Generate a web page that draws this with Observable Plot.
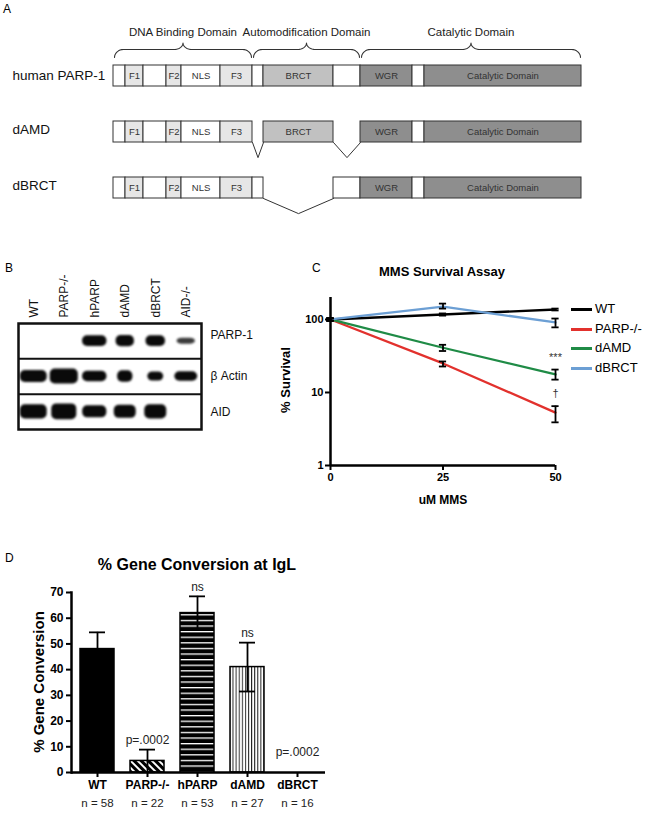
<!DOCTYPE html>
<html><head><meta charset="utf-8">
<script src="https://cdn.jsdelivr.net/npm/d3@7"></script>
<script src="https://cdn.jsdelivr.net/npm/@observablehq/plot@0.6"></script>
<style>
body{margin:0;background:#fff;font-family:"Liberation Sans",Arial,sans-serif;}
#fig{position:relative;width:652px;height:825px;overflow:hidden;background:#fff;}
.abs{position:absolute;white-space:nowrap;line-height:1;color:#000;}
.ctr{transform:translate(-50%,-50%);}
.rot{transform:translate(-50%,-50%) rotate(-90deg);}
.b{font-weight:bold;}
</style></head><body><div id="fig"></div>
<script>
// ================= DATA =================
// Panel A: domain structure
const constructs = ["human PARP-1", "dAMD", "dBRCT"];
const segNames = ["", "F1", "", "F2", "NLS", "F3", "", "BRCT", "", "WGR", "", "Catalytic Domain"];
const segBounds = [0, 12, 30, 53, 68, 107, 139, 150, 220, 247, 299, 311, 468];
const segKinds = ["white", "light", "white", "light", "white", "light", "white", "mid", "white", "dark", "white", "dark"];
const deletedSegs = [[], [6, 8], [7]];
const domainNames = ["DNA Binding Domain", "Automodification Domain", "Catalytic Domain"];
const domainStart = [0, 139, 247];
const domainEnd = [139, 247, 468];

// Panel B: western blot
const lanes = ["WT", "PARP-/-", "hPARP", "dAMD", "dBRCT", "AID-/-"];
const blotRows = ["PARP-1", "β Actin", "AID"];
const bandSignal = [
  [0, 0, 1, 1, 1, 0.8],
  [1, 1, 1, 1, 1, 1],
  [1, 1, 1, 1, 1, 0]
];
const bandWidth = [
  [0, 0, 0.80, 0.60, 0.64, 0.60],
  [0.88, 0.92, 0.80, 0.50, 0.52, 0.75],
  [0.88, 0.82, 0.79, 0.72, 0.72, 0]
];
const bandHeight = [
  [0, 0, 0.30, 0.32, 0.30, 0.17],
  [0.34, 0.42, 0.30, 0.32, 0.26, 0.27],
  [0.40, 0.45, 0.34, 0.37, 0.40, 0]
];

// Panel C: MMS survival
const doses = [0, 25, 50];
const survivalSeries = ["WT", "PARP-/-", "dAMD", "dBRCT"];
const wtSurv = [100, 117, 137], wtLo = [96, 113, 133], wtHi = [104, 121, 141];
const parpSurv = [100, 25, 5.3], parpLo = [96, 22.7, 3.9], parpHi = [104, 26.6, 6.5];
const damdSurv = [100, 41, 17.7], damdLo = [96, 37, 15], damdHi = [104, 45, 20.6];
const dbrctSurv = [100, 150, 91], dbrctLo = [96, 141, 78], dbrctHi = [104, 165, 103];
const survNotes = ["***", "†"];
const survNoteDose = [50, 50];
const survNoteY = [30, 9.7];

// Panel D: gene conversion
const gcCats = ["WT", "PARP-/-", "hPARP", "dAMD", "dBRCT"];
const gcMean = [48, 4.5, 62, 41, 0];
const gcSem = [6.5, 4.4, 6.5, 9.5, 0];
const gcN = [58, 22, 53, 27, 16];
const gcNote = ["", "p=.0002", "ns", "ns", "p=.0002"];

// ================= STYLES / LAYOUT =================
const FONT = "Liberation Sans, Arial, Helvetica, sans-serif";
const kindFill = {white: "#ffffff", light: "#e6e6e6", mid: "#c1c1c1", dark: "#8e8e8e"};
const survColors = ["#000000", "#e2312d", "#1f8b46", "#6c9fd4"];
const gcFill = ["#000000", "url(#pat-diag)", "url(#pat-horiz)", "url(#pat-vert)", "#ffffff"];
const fig = document.getElementById("fig");
function place(node, left, top) {
  const d = document.createElement("div");
  d.className = "abs"; d.style.left = left + "px"; d.style.top = top + "px";
  d.appendChild(node); fig.appendChild(d); return d;
}
function label(text, left, top, size, cls, extra) {
  const d = document.createElement("div");
  d.className = "abs " + (cls || "");
  d.style.left = left + "px"; d.style.top = top + "px"; d.style.fontSize = size + "px";
  if (extra) Object.assign(d.style, extra);
  d.textContent = text; fig.appendChild(d); return d;
}

// ================= PANEL A =================
const BAR_H = 0.375, V_DEPTH = 0.27;
const segRows = [];
constructs.forEach((c, r) => segNames.forEach((n, i) => {
  if (!deletedSegs[r].includes(i)) segRows.push({row: r, name: n, x1: segBounds[i], x2: segBounds[i + 1], kind: segKinds[i]});
}));
const vRows = [];
constructs.forEach((c, r) => deletedSegs[r].forEach(i => {
  const a = segBounds[i], b = segBounds[i + 1], id = r + "-" + i;
  vRows.push({id, x: a, y: r + BAR_H}, {id, x: (a + b) / 2, y: r + BAR_H + V_DEPTH}, {id, x: b, y: r + BAR_H});
}));
function bracePts(a, b, id) {
  const m = (a + b) / 2, r = 9, yb = -0.143, yf = -0.286, yc = -0.40, N = 8, pts = [];
  for (let k = 0; k <= N; k++) { const t = k / N * Math.PI / 2; pts.push({id, x: a + r * (1 - Math.cos(t)), y: yb + (yf - yb) * Math.sin(t)}); }
  for (let k = 0; k <= N; k++) { const t = k / N * Math.PI / 2; pts.push({id, x: m - r + r * Math.sin(t), y: yf + (yc - yf) * (1 - Math.cos(t))}); }
  for (let k = N; k >= 0; k--) { const t = k / N * Math.PI / 2; pts.push({id, x: m + r - r * Math.sin(t), y: yf + (yc - yf) * (1 - Math.cos(t))}); }
  for (let k = N; k >= 0; k--) { const t = k / N * Math.PI / 2; pts.push({id, x: b - r * (1 - Math.cos(t)), y: yb + (yf - yb) * Math.sin(t)}); }
  return pts;
}
const braceRows = domainNames.flatMap((n, i) => bracePts(domainStart[i] + 1, domainEnd[i] - 1, n));

const plotA = Plot.plot({
  width: 652, height: 225, margin: 0,
  style: {fontFamily: FONT, background: "transparent", color: "#222"},
  x: {domain: [0, 468], range: [113, 581], axis: null},
  y: {domain: [-65 / 56, 160 / 56], range: [0, 225], axis: null},
  color: {type: "identity"},
  marks: [
    Plot.line(braceRows, {x: "x", y: "y", z: "id", stroke: "#333", strokeWidth: 1.1}),
    Plot.text(domainNames, {x: (d, i) => (domainStart[i] + domainEnd[i]) / 2, y: () => -0.59, text: d => d, fontSize: 11.5, fill: "#222"}),
    Plot.line(vRows, {x: "x", y: "y", z: "id", stroke: "#333", strokeWidth: 1}),
    Plot.rect(segRows, {x1: "x1", x2: "x2", y1: d => d.row, y2: d => d.row + BAR_H, fill: d => kindFill[d.kind], stroke: "#333", strokeWidth: 1}),
    Plot.text(segRows.filter(d => d.name), {x: d => (d.x1 + d.x2) / 2, y: d => d.row + BAR_H / 2, text: "name", fontSize: 9.5, fill: "#333"}),
    Plot.text(constructs, {frameAnchor: "left", dx: 12, y: (d, i) => i + BAR_H / 2 - (i ? 0.05 : 0), text: d => d, textAnchor: "start", fontSize: 13.5, fill: "#111"})
  ]
});
place(plotA, 0, 0);
label("A", 3, 3, 12);

// ================= PANEL B =================
const bands = [];
blotRows.forEach((r, ri) => lanes.forEach((l, li) => {
  if (bandSignal[ri][li] > 0) bands.push({row: ri, lane: li, w: bandWidth[ri][li], h: bandHeight[ri][li], s: bandSignal[ri][li]});
}));
const plotB = Plot.plot({
  width: 260, height: 175, marginLeft: 18, marginRight: 59, marginTop: 61, marginBottom: 8,
  style: {fontFamily: FONT, background: "transparent", color: "#111"},
  x: {domain: [0, 6], axis: null},
  y: {domain: [0, 3], reverse: true, axis: null},
  marks: [
    Plot.rect(bands, {x1: d => d.lane + 0.5 - d.w / 2, x2: d => d.lane + 0.5 + d.w / 2, y1: d => d.row + 0.5 - d.h / 2, y2: d => d.row + 0.5 + d.h / 2, fill: "#0a0a0a", fillOpacity: d => d.s, rx: 5}),
    Plot.ruleY([1, 2], {stroke: "#111", strokeWidth: 2}),
    Plot.frame({stroke: "#111", strokeWidth: 2.5}),
    Plot.text(lanes, {x: (d, i) => i + 0.5, y: () => 0, dy: -6, rotate: -90, textAnchor: "start", text: d => d, fontSize: 12}),
    Plot.text(blotRows, {x: () => 6, dx: 9, y: (d, i) => i + 0.5 - (i === 0 ? 0.18 : 0), textAnchor: "start", text: d => d, fontSize: 12})
  ]
});
d3.select(plotB).select('g[aria-label="rect"]').style("filter", "blur(0.9px)");
place(plotB, 0, 262);
label("B", 5, 262, 12);

// ================= PANEL C =================
const survMeans = [wtSurv, parpSurv, damdSurv, dbrctSurv];
const survLos = [wtLo, parpLo, damdLo, dbrctLo];
const survHis = [wtHi, parpHi, damdHi, dbrctHi];
const survival = survivalSeries.flatMap((s, si) => doses.map((dose, di) => ({series: s, dose, value: survMeans[si][di], lo: survLos[si][di], hi: survHis[si][di]})));
const notesC = survNotes.map((t, i) => ({text: t, dose: survNoteDose[i], y: survNoteY[i]}));
const plotC = Plot.plot({
  width: 372, height: 230, marginLeft: 50, marginRight: 97, marginTop: 17, marginBottom: 45,
  style: {fontFamily: FONT, background: "transparent", color: "#000"},
  x: {domain: [0, 50]},
  y: {type: "log", domain: [1, 200]},
  color: {domain: survivalSeries, range: survColors},
  marks: [
    Plot.line(survival, {x: "dose", y: "value", z: "series", stroke: "series", strokeWidth: 2.3}),
    Plot.ruleX(survival, {x: "dose", y1: "lo", y2: "hi", stroke: "#000", strokeWidth: 1.8}),
    Plot.ruleY(survival, {y: "lo", x1: d => d.dose - 0.8, x2: d => d.dose + 0.8, stroke: "#000", strokeWidth: 1.8}),
    Plot.ruleY(survival, {y: "hi", x1: d => d.dose - 0.8, x2: d => d.dose + 0.8, stroke: "#000", strokeWidth: 1.8}),
    Plot.text(notesC, {x: "dose", y: "y", text: "text", fontSize: 11, fill: "#333"}),
    Plot.ruleX([0], {stroke: "#000", strokeWidth: 2.5}),
    Plot.ruleY([1], {stroke: "#000", strokeWidth: 2.5}),
    Plot.axisY({ticks: [1, 10, 100], tickFormat: d => String(d), tickSize: 5, tickPadding: 2, fontSize: 11, fontWeight: "bold", strokeWidth: 2, label: null}),
    Plot.axisX({ticks: [0, 25, 50], tickFormat: d => String(d), tickSize: 5, tickPadding: 3, fontSize: 11, fontWeight: "bold", strokeWidth: 2, label: null})
  ]
});
place(plotC, 280, 280);
label("C", 312, 262, 12);
label("MMS Survival Assay", 442, 271, 13, "ctr b");
label("uM MMS", 443, 500, 12, "ctr b");
label("% Survival", 285, 380, 13, "rot b");
const legendY = [309, 329, 348, 368];
survivalSeries.forEach((s, i) => {
  const ln = document.createElement("div");
  ln.className = "abs";
  Object.assign(ln.style, {left: "571px", top: (legendY[i] - 1.5) + "px", width: "21px", height: "3px", background: survColors[i]});
  fig.appendChild(ln);
  label(s, 595, legendY[i] - 7, 13);
});

// ================= PANEL D =================
const gene = gcCats.map((c, i) => ({cat: c, mean: gcMean[i], sem: gcSem[i], n: gcN[i], note: gcNote[i], fill: gcFill[i]}));
const geneErr = gene.filter(d => d.sem > 0);
const plotD = Plot.plot({
  width: 345, height: 250, marginLeft: 71, marginRight: 20, marginTop: 17, marginBottom: 53,
  style: {fontFamily: FONT, background: "transparent", color: "#000"},
  x: {type: "band", domain: gcCats, range: [71, 322], paddingInner: 0.32, paddingOuter: 0.16},
  y: {domain: [0, 70]},
  color: {type: "identity"},
  marks: [
    Plot.barY(gene.filter(d => d.mean > 0), {x: "cat", y: "mean", fill: "fill", stroke: "#000", strokeWidth: 1.5}),
    Plot.ruleX(geneErr, {x: "cat", y1: d => Math.max(0, d.mean - d.sem), y2: d => d.mean + d.sem, stroke: "#000", strokeWidth: 1.8}),
    Plot.tickY(geneErr, {x: "cat", y: d => d.mean + d.sem, insetLeft: 9, insetRight: 9, stroke: "#000", strokeWidth: 1.8}),
    Plot.tickY(geneErr.filter(d => d.mean - d.sem > 0), {x: "cat", y: d => d.mean - d.sem, insetLeft: 9, insetRight: 9, stroke: "#000", strokeWidth: 1.8}),
    Plot.text(geneErr.filter(d => d.note), {x: "cat", y: d => d.mean + d.sem, text: "note", dy: -9, fontSize: 12, fill: "#222"}),
    Plot.text(gene.filter(d => d.sem === 0), {x: "cat", y: "mean", text: "note", dy: -20, fontSize: 12, fill: "#222"}),
    Plot.text(gene, {x: "cat", text: d => "n = " + d.n, frameAnchor: "bottom", dy: 34, fontSize: 11.5, fill: "#222"}),
    Plot.ruleY([0], {stroke: "#000", strokeWidth: 2.5}),
    Plot.frame({anchor: "left", stroke: "#000", strokeWidth: 2.5}),
    Plot.axisY({ticks: d3.range(0, 71, 10), tickSize: 5, tickPadding: 3, fontSize: 12, fontWeight: "bold", strokeWidth: 2, label: null}),
    Plot.axisX({tickSize: 5, tickPadding: 3, fontSize: 12, fontWeight: "bold", strokeWidth: 2, label: null})
  ]
});
const defs = d3.select(plotD).insert("defs", ":first-child");
const pd = defs.append("pattern").attr("id", "pat-diag").attr("patternUnits", "userSpaceOnUse").attr("width", 5).attr("height", 5).attr("patternTransform", "rotate(-45)");
pd.append("rect").attr("width", 5).attr("height", 5).attr("fill", "#000");
pd.append("rect").attr("width", 2).attr("height", 5).attr("fill", "#fff");
const ph = defs.append("pattern").attr("id", "pat-horiz").attr("patternUnits", "userSpaceOnUse").attr("width", 10).attr("height", 5.6);
ph.append("rect").attr("width", 10).attr("height", 5.6).attr("fill", "#000");
ph.append("rect").attr("width", 10).attr("height", 1.3).attr("fill", "#fff");
const pv = defs.append("pattern").attr("id", "pat-vert").attr("patternUnits", "userSpaceOnUse").attr("width", 3.1).attr("height", 10);
pv.append("rect").attr("width", 3.1).attr("height", 10).attr("fill", "#fff");
pv.append("rect").attr("width", 1).attr("height", 10).attr("fill", "#222");
place(plotD, 0, 575);
label("D", 5, 552, 12);
label("% Gene Conversion at IgL", 197, 565, 16, "ctr b");
label("% Gene Conversion", 38, 682, 15, "rot b");
</script></body></html>
